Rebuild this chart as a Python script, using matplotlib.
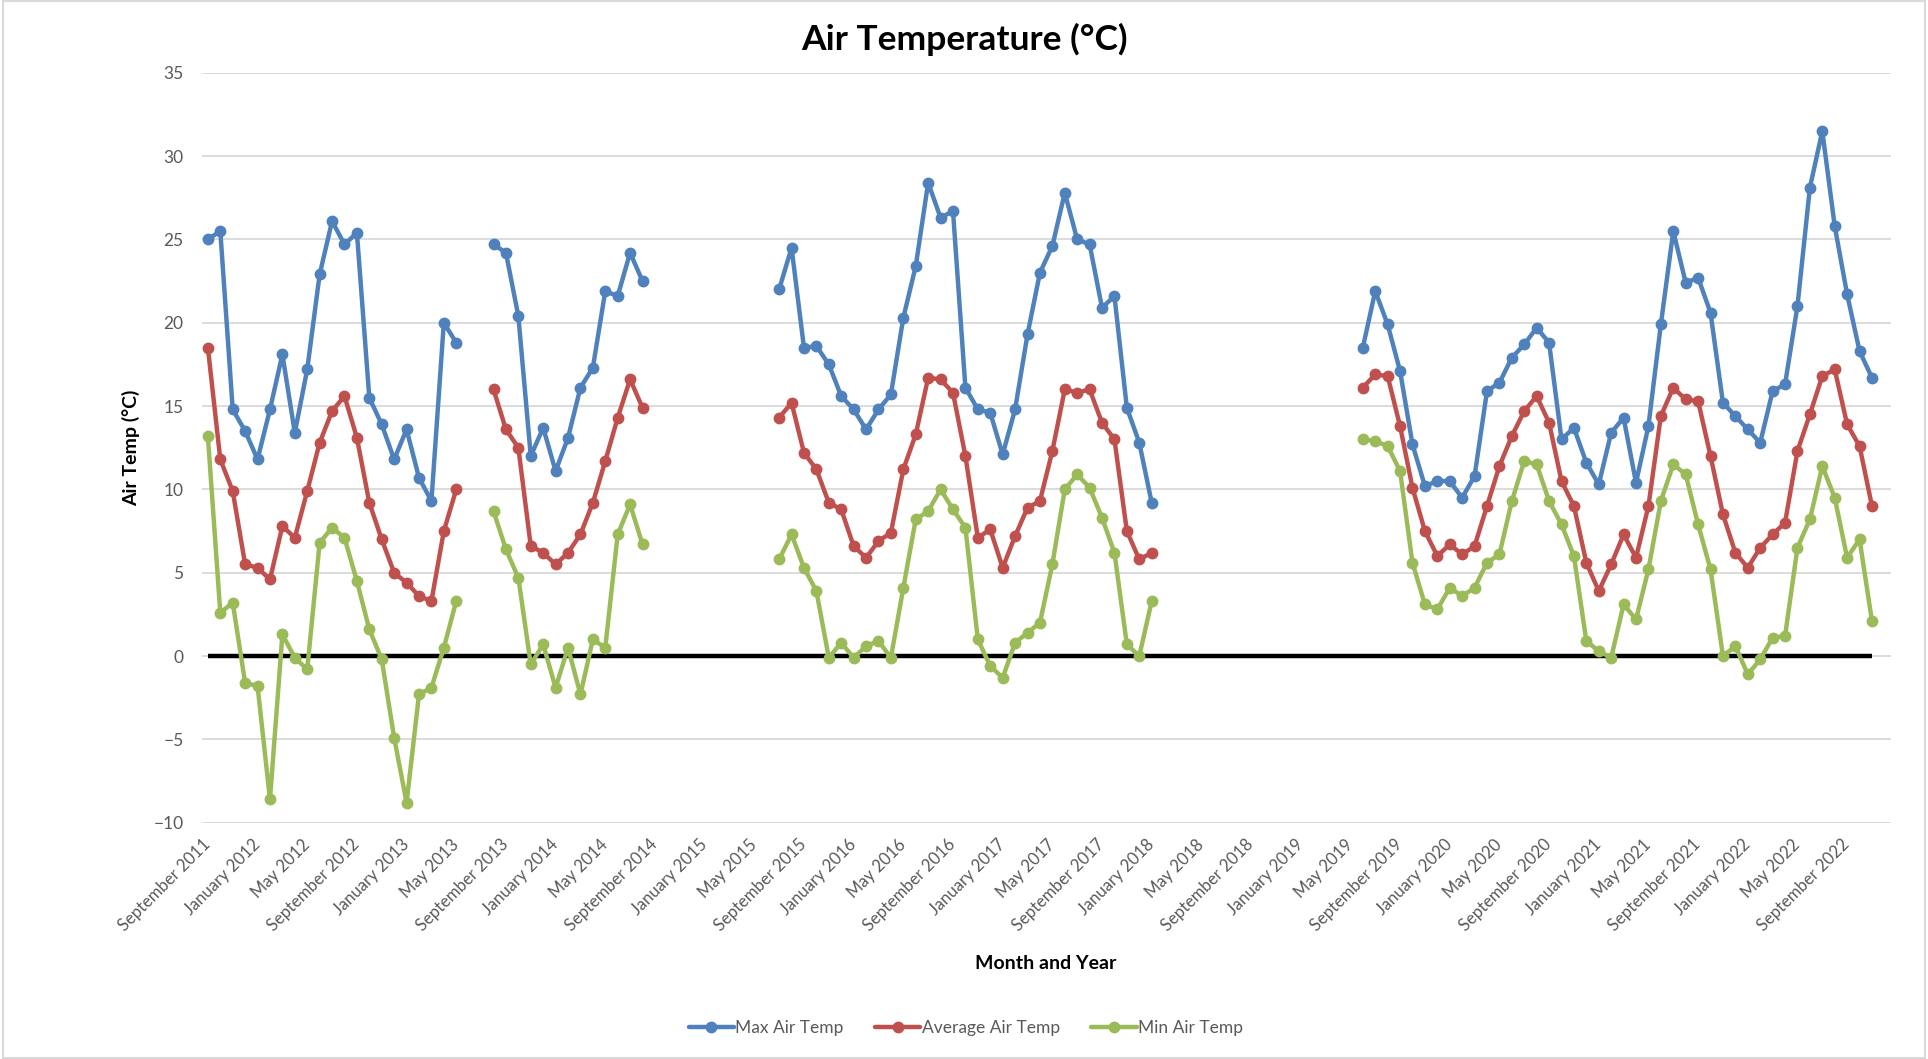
import numpy as np
import pandas as pd
import matplotlib
matplotlib.use('Agg')
import matplotlib.pyplot as plt
from matplotlib.patches import Rectangle

plt.rcParams['font.family'] = ['Lato', 'DejaVu Sans']

# categories: one per month, September 2011 .. December 2022
months = pd.date_range('2011-09-01', periods=136, freq='MS').strftime('%B %Y').tolist()

GAP = np.nan
# Sep 2011 - May 2013 | Aug 2013 - Aug 2014 | Jul 2015 - Jan 2018 | Jun 2019 - Nov 2022
max_temp = ([25.0, 25.5, 14.8, 13.5, 11.8, 14.8, 18.1, 13.4, 17.2, 22.9, 26.1, 24.7, 25.4, 15.5, 13.9,
             11.8, 13.6, 10.7, 9.3, 20.0, 18.8]
            + [GAP] * 2
            + [24.7, 24.2, 20.4, 12.0, 13.7, 11.1, 13.1, 16.1, 17.3, 21.9, 21.6, 24.2, 22.5]
            + [GAP] * 10
            + [22.0, 24.5, 18.5, 18.6, 17.5, 15.6, 14.8, 13.6, 14.8, 15.7, 20.3, 23.4, 28.4, 26.3, 26.7,
               16.1, 14.8, 14.6, 12.1, 14.8, 19.3, 23.0, 24.6, 27.8, 25.0, 24.7, 20.9, 21.6, 14.9, 12.8, 9.2]
            + [GAP] * 16
            + [18.5, 21.9, 19.9, 17.1, 12.7, 10.2, 10.5, 10.5, 9.5, 10.8, 15.9, 16.4, 17.9, 18.7, 19.7,
               18.8, 13.0, 13.7, 11.6, 10.3, 13.4, 14.3, 10.4, 13.8, 19.9, 25.5, 22.4, 22.7, 20.6, 15.2,
               14.4, 13.6, 12.8, 15.9, 16.3, 21.0, 28.1, 31.5, 25.8, 21.7, 18.3, 16.7]
            + [GAP])

avg_temp = ([18.5, 11.8, 9.9, 5.5, 5.3, 4.6, 7.8, 7.1, 9.9, 12.8, 14.7, 15.6, 13.1, 9.2, 7.0,
             5.0, 4.4, 3.6, 3.3, 7.5, 10.0]
            + [GAP] * 2
            + [16.0, 13.6, 12.5, 6.6, 6.2, 5.5, 6.2, 7.3, 9.2, 11.7, 14.3, 16.6, 14.9]
            + [GAP] * 10
            + [14.3, 15.2, 12.2, 11.2, 9.2, 8.8, 6.6, 5.9, 6.9, 7.4, 11.2, 13.3, 16.7, 16.6, 15.8,
               12.0, 7.1, 7.6, 5.3, 7.2, 8.9, 9.3, 12.3, 16.0, 15.8, 16.0, 14.0, 13.0, 7.5, 5.8, 6.2]
            + [GAP] * 16
            + [16.1, 16.9, 16.8, 13.8, 10.1, 7.5, 6.0, 6.7, 6.1, 6.6, 9.0, 11.4, 13.2, 14.7, 15.6,
               14.0, 10.5, 9.0, 5.6, 3.9, 5.5, 7.3, 5.9, 9.0, 14.4, 16.1, 15.4, 15.3, 12.0, 8.5,
               6.2, 5.3, 6.5, 7.3, 8.0, 12.3, 14.5, 16.8, 17.2, 13.9, 12.6, 9.0]
            + [GAP])

min_temp = ([13.2, 2.6, 3.2, -1.6, -1.8, -8.6, 1.3, -0.1, -0.8, 6.8, 7.7, 7.1, 4.5, 1.6, -0.2,
             -4.9, -8.8, -2.3, -1.9, 0.5, 3.3]
            + [GAP] * 2
            + [8.7, 6.4, 4.7, -0.5, 0.7, -1.9, 0.5, -2.3, 1.0, 0.5, 7.3, 9.1, 6.7]
            + [GAP] * 10
            + [5.8, 7.3, 5.3, 3.9, -0.1, 0.8, -0.1, 0.6, 0.9, -0.1, 4.1, 8.2, 8.7, 10.0, 8.8,
               7.7, 1.0, -0.6, -1.3, 0.8, 1.4, 2.0, 5.5, 10.0, 10.9, 10.1, 8.3, 6.2, 0.7, 0.0, 3.3]
            + [GAP] * 16
            + [13.0, 12.9, 12.6, 11.1, 5.6, 3.1, 2.8, 4.1, 3.6, 4.1, 5.6, 6.1, 9.3, 11.7, 11.5,
               9.3, 7.9, 6.0, 0.9, 0.3, -0.1, 3.1, 2.2, 5.2, 9.3, 11.5, 10.9, 7.9, 5.2, 0.0,
               0.6, -1.1, -0.2, 1.1, 1.2, 6.5, 8.2, 11.4, 9.5, 5.9, 7.0, 2.1]
            + [GAP])

series_names = ['Max Air Temp', 'Average Air Temp', 'Min Air Temp']
series_colors = ['#4F81BD', '#C0504D', '#9BBB59']

gray = '#595959'

fig = plt.figure(figsize=(19.28, 10.59), dpi=100)
ax = fig.add_axes([0.1046, 0.2231, 0.876, 0.7082])

x = np.arange(len(months))
last_idx = max(i for i, v in enumerate(max_temp) if not np.isnan(v))

# black reference line at 0, from first to last month with data
ax.hlines(0, 0, last_idx, color='black', lw=3.2, zorder=2)

for vals, name, col in zip([max_temp, avg_temp, min_temp], series_names, series_colors):
    ax.plot(x, vals, color=col, lw=3.2, marker='o', markersize=7.5,
            label=name, zorder=3, solid_capstyle='round')

ax.set_xlim(-0.5, len(months) - 0.5)
ax.set_ylim(-10, 35)
ax.set_yticks(np.arange(-10, 36, 5))
ax.grid(axis='y', color='#d9d9d9', lw=1.3)
ax.set_axisbelow(True)
for s in ax.spines.values():
    s.set_visible(False)

tick_idx = x[::4]
ax.set_xticks(tick_idx)
ax.set_xticklabels([months[i] for i in tick_idx], rotation=45, ha='right',
                   va='center', rotation_mode='anchor')
ax.tick_params(axis='x', length=0, pad=14, labelsize=12, labelcolor=gray)
ax.tick_params(axis='y', length=0, pad=13, labelsize=12.5, labelcolor=gray)

ax.set_ylabel('Air Temp (°C)', fontsize=14, fontweight='bold')
ax.yaxis.set_label_coords(-0.0365, 0.5)
ax.set_xlabel('Month and Year', fontsize=14, fontweight='bold')
ax.xaxis.set_label_coords(0.5, -0.188)
ax.xaxis.label.set_va('center')

fig.text(0.5003, 1 - 39 / 1059, 'Air Temperature (°C)', ha='center', va='center',
         fontsize=25.5, fontweight='bold')

leg = fig.legend(loc='center', bbox_to_anchor=(0.501, 0.029), ncol=3, frameon=False,
                 fontsize=12.5, handlelength=2.6, handletextpad=0.1, columnspacing=1.8,
                 labelcolor=gray)

fig.patches.append(Rectangle((0.0015, 0.001), 0.997, 0.998, transform=fig.transFigure,
                             fill=False, edgecolor='#d9d9d9', lw=1.5))

fig.savefig('out.png', dpi=100)
